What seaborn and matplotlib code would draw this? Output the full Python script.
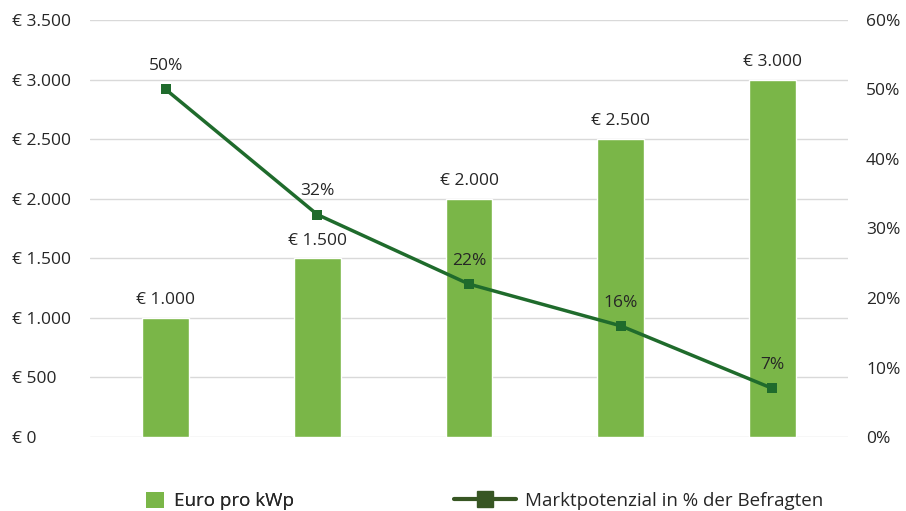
import matplotlib
matplotlib.use("Agg")
import matplotlib.pyplot as plt
import seaborn as sns
import pandas as pd
from matplotlib.lines import Line2D
from matplotlib.patches import Patch

# chart data
categories = ["A", "B", "C", "D", "E"]
euro_pro_kwp = [1000, 1500, 2000, 2500, 3000]
marktpotenzial = [0.50, 0.32, 0.22, 0.16, 0.07]
left_ticks = [0, 500, 1000, 1500, 2000, 2500, 3000, 3500]
right_ticks = [0, 0.1, 0.2, 0.3, 0.4, 0.5, 0.6]

bar_color = "#7AB648"
line_color = "#1F6B2C"
legend_line_color = "#375623"
grid_color = "#D9D9D9"
text_color = "#262626"

sns.set_theme(style="white")
plt.rcParams["font.family"] = ["Open Sans", "DejaVu Sans"]


def euro(v):
    return "€ " + f"{v:,.0f}".replace(",", ".")


df = pd.DataFrame({"cat": categories, "euro": euro_pro_kwp, "pct": marktpotenzial})
df["pos"] = range(len(df))

fig = plt.figure(figsize=(9.06, 5.11), dpi=100)
ax = fig.add_axes([90 / 906, 74 / 511, 758 / 906, 417 / 511])

sns.barplot(data=df, x="cat", y="euro", color=bar_color, width=0.31,
            saturation=1, ax=ax, zorder=2)
ax.set_ylim(0, 3500)
ax.set_xlim(-0.5, 4.5)
ax.set_yticks(left_ticks)
ax.set_yticklabels([euro(v) for v in left_ticks], fontsize=12.5, color=text_color, ha="left")
ax.tick_params(axis="y", length=0, pad=56)
ax.set_xticks([])
ax.set_xlabel("")
ax.set_ylabel("")
ax.grid(axis="y", color=grid_color, linewidth=1, zorder=0)
ax.set_axisbelow(True)
for s in ax.spines.values():
    s.set_visible(False)

for i, v in enumerate(euro_pro_kwp):
    ax.annotate(euro(v), (i, v), xytext=(0, 7), textcoords="offset points",
                ha="center", va="bottom", fontsize=12.5, color=text_color)

ax2 = ax.twinx()
sns.lineplot(data=df, x="pos", y="pct", color=line_color, linewidth=2.5,
             marker="s", markersize=7, markeredgewidth=0, ax=ax2)
ax2.set_ylim(0, 0.6)
ax2.set_yticks(right_ticks)
ax2.set_yticklabels([f"{v:.0%}" for v in right_ticks], fontsize=12.5, color=text_color)
ax2.tick_params(axis="y", length=0, pad=13)
ax2.set_xlabel("")
ax2.set_ylabel("")
ax2.set_xlim(-0.5, 4.5)
for s in ax2.spines.values():
    s.set_visible(False)

for i, v in enumerate(marktpotenzial):
    ax2.annotate(f"{v:.0%}", (i, v), xytext=(0, 11), textcoords="offset points",
                 ha="center", va="bottom", fontsize=12.5, color=text_color)

bar_handle = Patch(facecolor=bar_color, edgecolor="none")
line_handle = Line2D([], [], color=legend_line_color, linewidth=3, marker="s",
                     markersize=12)
leg1 = fig.legend([bar_handle], ["Euro pro kWp"], loc="center left",
                  bbox_to_anchor=(129 / 906, 1 - 501 / 511), frameon=False,
                  fontsize=13.5, handlelength=0.95, handleheight=0.95,
                  handletextpad=0.55, labelcolor=text_color)
fig.add_artist(leg1)
fig.legend([line_handle], ["Marktpotenzial in % der Befragten"], loc="center left",
           bbox_to_anchor=(437 / 906, 1 - 501 / 511), frameon=False,
           fontsize=13.5, handlelength=3.3, handletextpad=0.5, labelcolor=text_color)

fig.savefig("out.png", dpi=100)
